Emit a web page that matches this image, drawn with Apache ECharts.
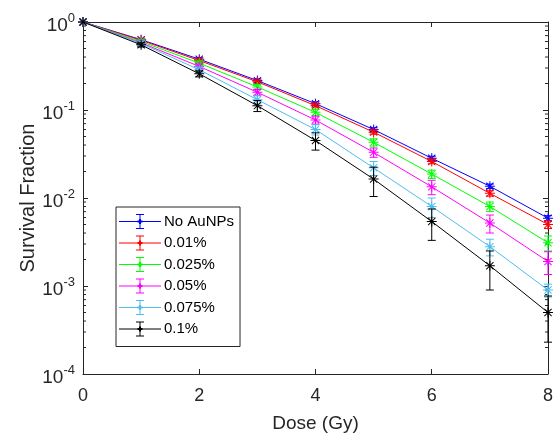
<!DOCTYPE html>
<html>
<head>
<meta charset="utf-8">
<script src="https://cdn.jsdelivr.net/npm/echarts@6/dist/echarts.min.js"></script>
<style>
  html, body { margin: 0; padding: 0; background: #fff; }
  #chart { width: 556px; height: 438px; }
</style>
</head>
<body>
<div id="chart"></div>
<script>
// 剂量 (Gy)
const dose = [0, 1, 2, 3, 4, 5, 6, 7, 8]
// 各组存活分数
const noAuNPs = [1, 0.63, 0.378, 0.216, 0.118, 0.060, 0.0283, 0.0136, 0.0059]
const c001 = [1, 0.62, 0.365, 0.209, 0.112, 0.056, 0.026, 0.0113, 0.0050]
const c0025 = [1, 0.60, 0.341, 0.183, 0.094, 0.043, 0.0187, 0.0080, 0.0031]
const c005 = [1, 0.58, 0.313, 0.159, 0.077, 0.033, 0.0134, 0.0052, 0.0019]
const c0075 = [1, 0.57, 0.287, 0.131, 0.060, 0.022, 0.0080, 0.0028, 0.0009]
const c01 = [1, 0.55, 0.258, 0.112, 0.045, 0.0164, 0.0054, 0.0017, 0.0005]
// 误差 (对称)
const errNo = [0, 0.02, 0.015, 0.01, 0.006, 0.003, 0.0015, 0.0008, 0.0004]
const err001 = [0, 0.02, 0.015, 0.01, 0.006, 0.003, 0.0015, 0.0008, 0.0005]
const err0025 = [0, 0.025, 0.02, 0.012, 0.007, 0.004, 0.002, 0.001, 0.0006]
const err005 = [0, 0.025, 0.02, 0.012, 0.008, 0.004, 0.0025, 0.0012, 0.00055]
const err0075 = [0, 0.03, 0.02, 0.014, 0.008, 0.004, 0.002, 0.0006, 0.00015]
const err01 = [0, 0.03, 0.02, 0.016, 0.01, 0.006, 0.0021, 0.0008, 0.00027]
// 图例名称和颜色
const names = ['No AuNPs', '0.01%', '0.025%', '0.05%', '0.075%', '0.1%']
const colors = ['#0000ff', '#ff0000', '#00ff00', '#ff00ff', '#4dbeee', '#000000']
const values = [noAuNPs, c001, c0025, c005, c0075, c01]
const errors = [errNo, err001, err0025, err005, err0075, err01]
// 对数轴的次刻度
const minorVals = []
;[1e-4, 1e-3, 1e-2, 1e-1].forEach(d => {
  for (let k = 2; k <= 9; k++) minorVals.push(+(d * k).toPrecision(3))
})

const FONT = 'Liberation Sans, Arial, Helvetica, sans-serif'
const AXIS = '#262626'

// 星号标记
const starPath = 'path://M0 7.2H16V8.8H0Z M7.2 0H8.8V16H7.2Z M2.8 1.7L14.3 13.2L13.2 14.3L1.7 2.8Z M13.2 1.7L14.3 2.8L2.8 14.3L1.7 13.2Z'
// 图例图标：线 + 误差棒 + 标记
const legendPath = 'path://M0 7.5H42V8.5H0Z M20.5 1H21.5V15H20.5Z M17 0.5H25V1.5H17Z M17 14.5H25V15.5H17Z M18.5 7H23.5V9H18.5Z M20 5.5H22V10.5H20Z'

const chart = echarts.init(document.getElementById('chart'))

const series = []
names.forEach((name, i) => {
  series.push({
    name: name,
    type: 'line',
    data: dose.map((d, j) => [d, values[i][j]]),
    symbol: starPath,
    symbolSize: 10,
    showAllSymbol: true,
    lineStyle: { color: colors[i], width: 1 },
    itemStyle: { color: colors[i] },
    emphasis: { disabled: true },
    z: 3 + i
  })
  series.push({
    name: name,
    type: 'custom',
    data: dose.map((d, j) => [d, values[i][j], errors[i][j]]),
    encode: { x: 0, y: 1 },
    itemStyle: { color: colors[i] },
    z: 3 + i,
    silent: true,
    renderItem: (params, api) => {
      const x = api.value(0)
      const y = api.value(1)
      const e = api.value(2)
      if (!e) return null
      const hi = api.coord([x, y + e])
      const lo = api.coord([x, Math.max(y - e, 1e-5)])
      const w = 4
      const st = { stroke: colors[i], lineWidth: 1 }
      return {
        type: 'group',
        children: [
          { type: 'line', shape: { x1: hi[0], y1: hi[1], x2: lo[0], y2: lo[1] }, style: st },
          { type: 'line', shape: { x1: hi[0] - w, y1: hi[1], x2: hi[0] + w, y2: hi[1] }, style: st },
          { type: 'line', shape: { x1: lo[0] - w, y1: lo[1], x2: lo[0] + w, y2: lo[1] }, style: st }
        ]
      }
    }
  })
})

// 左右两侧的次刻度
series.push({
  type: 'custom',
  data: minorVals.map(v => [0, v]),
  encode: { x: 0, y: 1 },
  silent: true,
  z: 2,
  renderItem: (params, api) => {
    const v = api.value(1)
    const pl = api.coord([0, v])
    const pr = api.coord([8, v])
    const st = { stroke: AXIS, lineWidth: 1 }
    return {
      type: 'group',
      children: [
        { type: 'line', shape: { x1: pl[0], y1: pl[1], x2: pl[0] + 3, y2: pl[1] }, style: st },
        { type: 'line', shape: { x1: pr[0], y1: pr[1], x2: pr[0] - 3, y2: pr[1] }, style: st }
      ]
    }
  }
})

const xCommon = {
  type: 'value',
  min: 0,
  max: 8,
  interval: 2,
  splitLine: { show: false },
  axisLine: { show: true, onZero: false, lineStyle: { color: AXIS, width: 1 } },
  axisTick: { show: true, inside: true, length: 5, lineStyle: { color: AXIS } }
}
const yCommon = {
  type: 'log',
  logBase: 10,
  min: 0.0001,
  max: 1,
  splitLine: { show: false },
  axisLine: { show: true, onZero: false, lineStyle: { color: AXIS, width: 1 } },
  axisTick: { show: true, inside: true, length: 5, lineStyle: { color: AXIS } }
}

chart.setOption({
  animation: false,
  backgroundColor: '#fff',
  textStyle: { fontFamily: FONT },
  grid: { left: 83, right: 7, top: 22, bottom: 62, containLabel: false },
  legend: {
    orient: 'vertical',
    left: 116,
    top: 207,
    backgroundColor: '#fff',
    borderColor: AXIS,
    borderWidth: 1,
    padding: [7, 6, 10, 3],
    itemWidth: 42,
    itemHeight: 16,
    itemGap: 6.5,
    selectedMode: false,
    textStyle: { fontFamily: FONT, fontSize: 15, color: '#000', padding: [0, 0, 0, -2] },
    data: names.map(n => ({ name: n, icon: legendPath }))
  },
  xAxis: [
    Object.assign({}, xCommon, {
      position: 'bottom',
      name: 'Dose (Gy)',
      nameLocation: 'middle',
      nameGap: 40,
      nameMoveOverlap: false,
      nameTextStyle: { fontFamily: FONT, fontSize: 19, color: AXIS },
      axisLabel: { fontFamily: FONT, fontSize: 18, color: AXIS, margin: 13 }
    }),
    Object.assign({}, xCommon, {
      position: 'top',
      axisLabel: { show: false }
    })
  ],
  yAxis: [
    Object.assign({}, yCommon, {
      position: 'left',
      name: 'Survival Fraction',
      nameLocation: 'middle',
      nameGap: 45,
      nameMoveOverlap: false,
      nameTextStyle: { fontFamily: FONT, fontSize: 20, color: AXIS },
      axisLabel: {
        margin: 8,
        formatter: v => '{b|10}{s|' + Math.round(Math.log10(v)) + '}',
        rich: {
          b: { fontFamily: FONT, fontSize: 19, color: AXIS, padding: [7, 0, 0, 0] },
          s: { fontFamily: FONT, fontSize: 13, color: AXIS, padding: [0, 0, 7, 0] }
        }
      }
    }),
    Object.assign({}, yCommon, {
      position: 'right',
      axisLabel: { show: false }
    })
  ],
  series: series
})
</script>
</body>
</html>
